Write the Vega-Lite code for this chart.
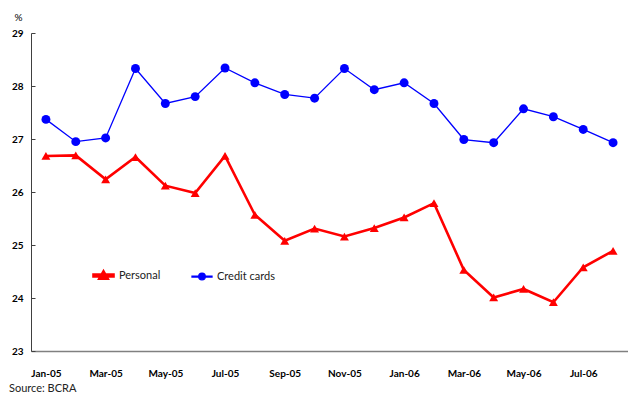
{
  "$schema": "https://vega.github.io/schema/vega-lite/v6.json",
  "width": 597,
  "height": 318,
  "autosize": "none",
  "padding": {"left": 31, "top": 33, "right": 0, "bottom": 43},
  "background": "white",
  "config": {
    "view": {"stroke": null},
    "font": "Lato",
    "legend": {
      "orient": "none",
      "legendX": 61,
      "legendY": 231,
      "direction": "horizontal",
      "padding": 0,
      "columnPadding": 28,
      "symbolSize": 400,
      "labelFont": "Lato",
      "labelFontSize": 11,
      "labelColor": "#222222",
      "labelOffset": 4,
      "title": null
    }
  },
  "title": {
    "text": "Source: BCRA",
    "orient": "bottom",
    "anchor": "start",
    "frame": "group",
    "dx": -22,
    "offset": 5,
    "font": "Lato",
    "fontSize": 11,
    "fontWeight": "normal",
    "color": "#222222"
  },
  "data": {
    "values": [
      {"month": "Jan-05", "series": "Personal", "value": 26.68},
      {"month": "Feb-05", "series": "Personal", "value": 26.69},
      {"month": "Mar-05", "series": "Personal", "value": 26.24},
      {"month": "Apr-05", "series": "Personal", "value": 26.66},
      {"month": "May-05", "series": "Personal", "value": 26.12},
      {"month": "Jun-05", "series": "Personal", "value": 25.98},
      {"month": "Jul-05", "series": "Personal", "value": 26.68},
      {"month": "Aug-05", "series": "Personal", "value": 25.57},
      {"month": "Sep-05", "series": "Personal", "value": 25.08},
      {"month": "Oct-05", "series": "Personal", "value": 25.31},
      {"month": "Nov-05", "series": "Personal", "value": 25.16},
      {"month": "Dec-05", "series": "Personal", "value": 25.32},
      {"month": "Jan-06", "series": "Personal", "value": 25.52},
      {"month": "Feb-06", "series": "Personal", "value": 25.79},
      {"month": "Mar-06", "series": "Personal", "value": 24.53},
      {"month": "Apr-06", "series": "Personal", "value": 24.01},
      {"month": "May-06", "series": "Personal", "value": 24.17},
      {"month": "Jun-06", "series": "Personal", "value": 23.92},
      {"month": "Jul-06", "series": "Personal", "value": 24.58},
      {"month": "Aug-06", "series": "Personal", "value": 24.89},
      {"month": "Jan-05", "series": "Credit cards", "value": 27.37},
      {"month": "Feb-05", "series": "Credit cards", "value": 26.95},
      {"month": "Mar-05", "series": "Credit cards", "value": 27.02},
      {"month": "Apr-05", "series": "Credit cards", "value": 28.33},
      {"month": "May-05", "series": "Credit cards", "value": 27.67},
      {"month": "Jun-05", "series": "Credit cards", "value": 27.8},
      {"month": "Jul-05", "series": "Credit cards", "value": 28.34},
      {"month": "Aug-05", "series": "Credit cards", "value": 28.06},
      {"month": "Sep-05", "series": "Credit cards", "value": 27.84},
      {"month": "Oct-05", "series": "Credit cards", "value": 27.77},
      {"month": "Nov-05", "series": "Credit cards", "value": 28.33},
      {"month": "Dec-05", "series": "Credit cards", "value": 27.93},
      {"month": "Jan-06", "series": "Credit cards", "value": 28.06},
      {"month": "Feb-06", "series": "Credit cards", "value": 27.67},
      {"month": "Mar-06", "series": "Credit cards", "value": 26.99},
      {"month": "Apr-06", "series": "Credit cards", "value": 26.93},
      {"month": "May-06", "series": "Credit cards", "value": 27.57},
      {"month": "Jun-06", "series": "Credit cards", "value": 27.42},
      {"month": "Jul-06", "series": "Credit cards", "value": 27.18},
      {"month": "Aug-06", "series": "Credit cards", "value": 26.93}
    ]
  },
  "encoding": {
    "x": {
      "field": "month",
      "type": "ordinal",
      "scale": {
        "type": "point",
        "padding": 0.5,
        "domain": ["Jan-05","Feb-05","Mar-05","Apr-05","May-05","Jun-05","Jul-05","Aug-05","Sep-05","Oct-05","Nov-05","Dec-05","Jan-06","Feb-06","Mar-06","Apr-06","May-06","Jun-06","Jul-06","Aug-06"]
      },
      "axis": {
        "title": null,
        "values": ["Jan-05","Mar-05","May-05","Jul-05","Sep-05","Nov-05","Jan-06","Mar-06","May-06","Jul-06"],
        "ticks": false,
        "grid": false,
        "labelAngle": 0,
        "labelFont": "Lato",
        "labelFontWeight": "bold",
        "labelFontSize": 10,
        "labelColor": "#000000",
        "labelPadding": 17,
        "domainColor": "#808080",
        "domainWidth": 1.5
      }
    },
    "y": {
      "field": "value",
      "type": "quantitative",
      "scale": {"domain": [23, 29], "nice": false, "zero": false},
      "axis": {
        "values": [23, 24, 25, 26, 27, 28, 29],
        "grid": false,
        "tickSize": -4,
        "tickColor": "#404040",
        "domainColor": "#404040",
        "labelFont": "Lato",
        "labelFontWeight": "bold",
        "labelFontSize": 10,
        "labelColor": "#000000",
        "labelPadding": 12,
        "title": "%",
        "titleAngle": 0,
        "titleX": -13,
        "titleY": -16,
        "titleAlign": "center",
        "titleBaseline": "middle",
        "titleFont": "Lato",
        "titleFontSize": 10,
        "titleFontWeight": "normal",
        "titleColor": "#000000"
      }
    }
  },
  "layer": [
    {
      "mark": {"type": "point", "filled": true, "size": 400, "opacity": 0},
      "encoding": {
        "color": {
          "field": "series",
          "type": "nominal",
          "scale": {"domain": ["Personal", "Credit cards"], "range": ["#FF0000", "#0000FF"]},
          "legend": {
            "encode": {
              "symbols": {
                "update": {
                  "fill": {"scale": "color", "field": "value"},
                  "stroke": {"value": "transparent"},
                  "opacity": {"value": 1},
                  "fillOpacity": {"value": 1}
                }
              }
            }
          }
        },
        "shape": {
          "field": "series",
          "type": "nominal",
          "scale": {
            "domain": ["Personal", "Credit cards"],
            "range": [
              "M-1,-0.1H1V0.1H-1Z M0,-0.42L0.42,0.32L-0.42,0.32Z",
              "M-1,-0.05H1V0.05H-1Z M0.33,0A0.33,0.33 0 1,1 -0.33,0A0.33,0.33 0 1,1 0.33,0Z"
            ]
          }
        }
      }
    },
    {
      "mark": {"type": "line"},
      "encoding": {
        "color": {"field": "series", "type": "nominal"},
        "strokeWidth": {
          "field": "series",
          "type": "nominal",
          "scale": {"domain": ["Personal", "Credit cards"], "range": [2.6, 1.3]},
          "legend": null
        }
      }
    },
    {
      "transform": [{"filter": "datum.series === 'Personal'"}],
      "mark": {"type": "point", "shape": "triangle-up", "filled": true, "size": 80, "opacity": 1},
      "encoding": {
        "color": {"field": "series", "type": "nominal"}
      }
    },
    {
      "transform": [{"filter": "datum.series === 'Credit cards'"}],
      "mark": {"type": "point", "shape": "circle", "filled": true, "size": 80, "opacity": 1},
      "encoding": {
        "color": {"field": "series", "type": "nominal"}
      }
    }
  ]
}
